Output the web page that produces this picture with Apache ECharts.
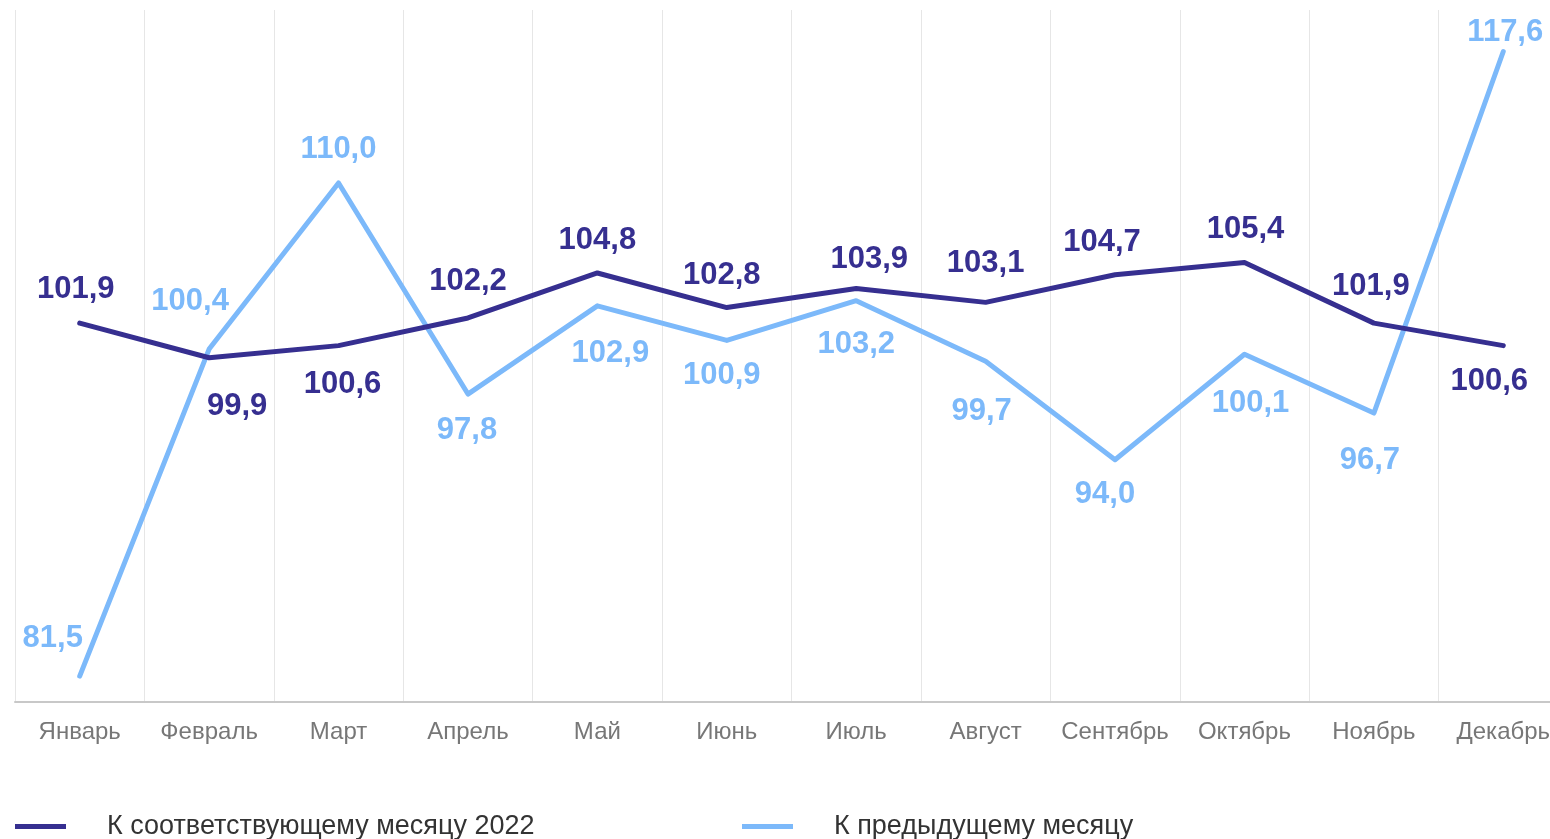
<!DOCTYPE html>
<html>
<head>
<meta charset="utf-8">
<script src="https://cdn.jsdelivr.net/npm/echarts@6/dist/echarts.min.js"></script>
<style>html,body{margin:0;padding:0;background:#fff;overflow:hidden;width:1550px;height:839px}#c{width:1568px;height:839px}</style>
</head>
<body>
<div id="c"></div>
<script>
var categories = ['Январь','Февраль','Март','Апрель','Май','Июнь','Июль','Август','Сентябрь','Октябрь','Ноябрь','Декабрь'];
var seriesNames = ['К соответствующему месяцу 2022','К предыдущему месяцу'];
var yoyValues = [101.9, 99.9, 100.6, 102.2, 104.8, 102.8, 103.9, 103.1, 104.7, 105.4, 101.9, 100.6];
var momValues = [81.5, 100.4, 110.0, 97.8, 102.9, 100.9, 103.2, 99.7, 94.0, 100.1, 96.7, 117.6];

// label placement (styling only)
var yoyLabelOffsets = [[-4,-34],[28,49],[4,39],[0,-36],[0,-33],[-5,-32],[13,-29],[0,-39],[-13,-32],[1,-33],[-3,-37],[-14,36]];
var momLabelOffsets = [[-27,-38],[-19,-48],[0,-34],[-1,36],[13,48],[-5,35],[0,44],[-4,50],[-10,35],[6,49],[-4,47],[2,-19]];

var DARK = '#362f90', LIGHT = '#7cb9fa';
var FONT = 'Arial, "Liberation Sans", sans-serif';

function build(values, offsets) {
  return values.map(function (v, i) {
    return { value: v, label: { offset: offsets[i] } };
  });
}
function fmt(p) { return p.value.toFixed(1).replace('.', ','); }

var chart = echarts.init(document.getElementById('c'), null, { renderer: 'canvas', width: 1568, height: 839 });
chart.setOption({
  animation: false,
  backgroundColor: '#fff',
  grid: { left: 15, right: 0, top: 10, bottom: 137, containLabel: false },
  xAxis: {
    type: 'category',
    data: categories,
    boundaryGap: true,
    axisLine: { show: true, lineStyle: { color: '#c8c8c8', width: 2 } },
    axisTick: { show: false },
    axisLabel: { color: '#777', fontSize: 24, fontFamily: FONT, margin: 18, interval: 0 },
    splitLine: { show: true, interval: 0, lineStyle: { color: '#e6e6e6', width: 1 } }
  },
  yAxis: { type: 'value', min: 80, max: 120, show: false, splitLine: { show: false } },
  legend: [
    { data: [seriesNames[0]], left: 10, top: 808, icon: 'rect', itemWidth: 51, itemHeight: 5,
      textStyle: { color: '#333', fontSize: 27, fontFamily: FONT, padding: [0,0,0,36] } },
    { data: [seriesNames[1]], left: 737, top: 808, icon: 'rect', itemWidth: 51, itemHeight: 5,
      textStyle: { color: '#333', fontSize: 27, fontFamily: FONT, padding: [0,0,0,36] } }
  ],
  series: [
    {
      name: seriesNames[1], type: 'line', data: build(momValues, momLabelOffsets),
      symbol: 'circle', symbolSize: 0.1, showSymbol: true,
      itemStyle: { color: LIGHT },
      lineStyle: { color: LIGHT, width: 5, cap: 'round', join: 'round' },
      label: { show: true, position: 'inside', formatter: fmt, color: LIGHT, fontSize: 31, fontWeight: 'bold', fontFamily: FONT },
      z: 2
    },
    {
      name: seriesNames[0], type: 'line', data: build(yoyValues, yoyLabelOffsets),
      symbol: 'circle', symbolSize: 0.1, showSymbol: true,
      itemStyle: { color: DARK },
      lineStyle: { color: DARK, width: 5, cap: 'round', join: 'round' },
      label: { show: true, position: 'inside', formatter: fmt, color: DARK, fontSize: 31, fontWeight: 'bold', fontFamily: FONT },
      z: 3
    }
  ]
});
</script>
</body>
</html>
